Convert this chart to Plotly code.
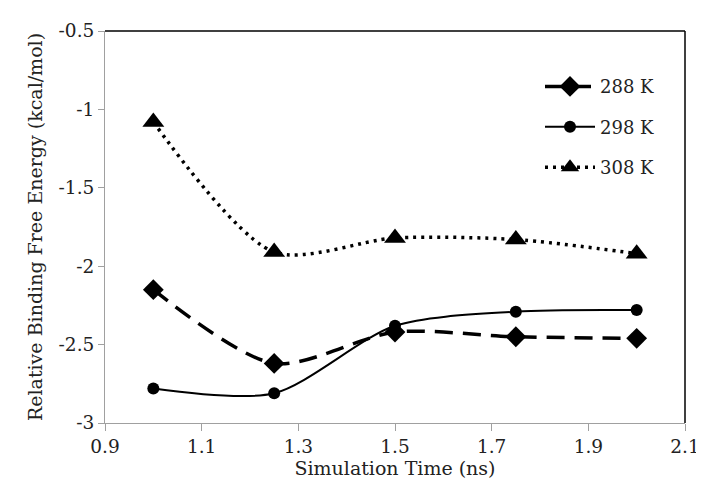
import plotly.graph_objects as go

# simulation time (ns)
time_ns = [1.0, 1.25, 1.5, 1.75, 2.0]

# relative binding free energy (kcal/mol) per temperature
dg_288 = [-2.15, -2.62, -2.42, -2.45, -2.46]
dg_298 = [-2.78, -2.81, -2.38, -2.29, -2.28]
dg_308 = [-1.08, -1.91, -1.82, -1.83, -1.92]

# tick labels (plain hyphen minus like the original)
x_ticks = [0.9, 1.1, 1.3, 1.5, 1.7, 1.9, 2.1]
x_labels = ["0.9", "1.1", "1.3", "1.5", "1.7", "1.9", "2.1"]
y_ticks = [-3, -2.5, -2, -1.5, -1, -0.5]
y_labels = ["-3", "-2.5", "-2", "-1.5", "-1", "-0.5"]

series = [
    ("288 K", dg_288, "18px,10px", "diamond", 16, 3.5),
    ("298 K", dg_298, "solid", "circle", 12, 2),
    ("308 K", dg_308, "3px,5px", "triangle-up", 19, 3.5),
]

font_name = "DejaVu Serif"

fig = go.Figure()
for name, vals, dash, symbol, msize, lw in series:
    fig.add_trace(go.Scatter(
        x=time_ns, y=vals, name=name, legendgroup=name,
        mode="lines+markers",
        line=dict(color="black", width=lw, dash=dash, shape="spline", smoothing=0.8),
        marker=dict(symbol=symbol, size=msize, color="black"),
    ))

fig.update_layout(
    width=704, height=489,
    margin=dict(l=97, r=21, t=22, b=74),
    plot_bgcolor="white", paper_bgcolor="white",
    font=dict(family=font_name, size=18, color="#222"),
    showlegend=True,
    legend=dict(
        x=0.75, y=0.905, xanchor="left", yanchor="top",
        bgcolor="rgba(0,0,0,0)", itemwidth=50,
        tracegroupgap=14, font=dict(size=18),
    ),
    xaxis=dict(
        title=dict(text="Simulation Time (ns)", font=dict(size=19), standoff=4),
        range=[0.9, 2.1], tickvals=x_ticks, ticktext=x_labels,
        tickfont=dict(size=18.5),
        showgrid=False, zeroline=False,
        showline=True, linecolor="#a0a0a0", linewidth=1,
        ticks="outside", tickcolor="#a0a0a0", ticklen=7,
    ),
    yaxis=dict(
        title=dict(text="Relative Binding Free Energy (kcal/mol)", font=dict(size=19), standoff=10),
        range=[-3, -0.5], tickvals=y_ticks, ticktext=y_labels,
        tickfont=dict(size=18.5),
        showgrid=False, zeroline=False,
        showline=True, linecolor="#a0a0a0", linewidth=1,
        ticks="outside", tickcolor="#a0a0a0", ticklen=6,
    ),
)

# dark frame on top and right edges of the plot area
fig.add_shape(type="line", xref="paper", yref="paper", x0=0, x1=1, y0=1, y1=1,
              line=dict(color="black", width=1.5))
fig.add_shape(type="line", xref="paper", yref="paper", x0=1, x1=1, y0=0, y1=1,
              line=dict(color="black", width=1.5))

fig.write_html("out.html")
